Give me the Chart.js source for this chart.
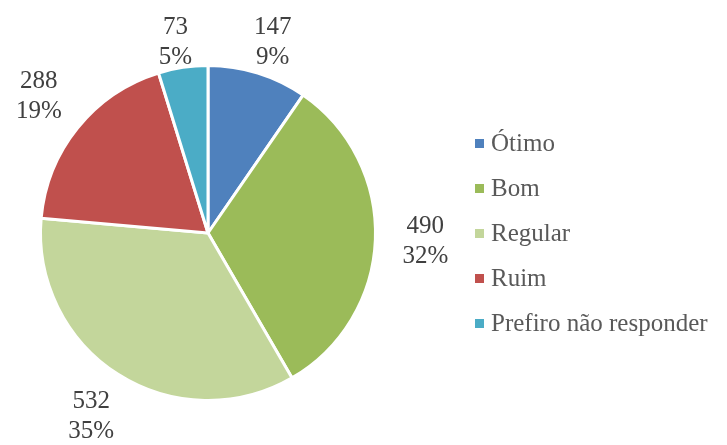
<!DOCTYPE html>
<html>
<head>
<meta charset="utf-8">
<script src="https://cdn.jsdelivr.net/npm/chart.js@4/dist/chart.umd.min.js"></script>
<style>
html,body{margin:0;padding:0;background:#fff;}
#wrap{width:727px;height:445px;position:relative;overflow:hidden;}
#c{position:absolute;left:0;top:0;}
</style>
</head>
<body>
<div id="wrap"><canvas id="c" width="727" height="445"></canvas></div>
<script>
const categories = ["Ótimo", "Bom", "Regular", "Ruim", "Prefiro não responder"];
const values = [147, 490, 532, 288, 73];
const percentLabels = ["9%", "32%", "35%", "19%", "5%"];
const colors = ["#4F81BD", "#9BBB59", "#C3D69B", "#C0504D", "#4BACC6"];

const LABEL_FONT = "25px Times New Roman";
const LEGEND_FONT = "25px serif";

const labelPlugin = {
  id: 'outLabels',
  afterDatasetsDraw(chart) {
    const ctx = chart.ctx;
    const meta = chart.getDatasetMeta(0);
    ctx.save();
    ctx.font = LABEL_FONT;
    ctx.fillStyle = "#404040";
    ctx.textAlign = "center";
    ctx.textBaseline = "middle";
    const lh = 30;
    meta.data.forEach((arc, i) => {
      const p = arc.getProps(['x','y','startAngle','endAngle','outerRadius'], true);
      const mid = (p.startAngle + p.endAngle) / 2;
      const d = p.outerRadius + 50;
      let cx = p.x + Math.cos(mid) * d;
      let cy = p.y + Math.sin(mid) * d;
      cy = Math.max(cy, 42);
      ctx.fillText(String(chart.data.datasets[0].data[i]), cx, cy - lh/2);
      ctx.fillText(percentLabels[i], cx, cy + lh/2);
    });
    ctx.restore();
  }
};

const legendPlugin = {
  id: 'sideLegend',
  afterDraw(chart) {
    const ctx = chart.ctx;
    const ds = chart.data.datasets[0];
    ctx.save();
    ctx.font = LEGEND_FONT;
    ctx.textAlign = "left";
    ctx.textBaseline = "middle";
    chart.data.labels.forEach((lab, i) => {
      const y = 143 + i * 45;
      ctx.fillStyle = ds.backgroundColor[i];
      ctx.fillRect(475, y - 4, 9, 9);
      ctx.fillStyle = "#595959";
      ctx.fillText(lab, 491, y + 1);
    });
    ctx.restore();
  }
};

new Chart(document.getElementById('c'), {
  type: 'pie',
  data: {
    labels: categories,
    datasets: [{
      data: values,
      backgroundColor: colors,
      borderColor: '#ffffff',
      borderWidth: 3
    }]
  },
  options: {
    responsive: false,
    animation: false,
    layout: { padding: { top: 63, bottom: 42, left: 39, right: 350 } },
    plugins: {
      legend: { display: false },
      tooltip: { enabled: false }
    }
  },
  plugins: [labelPlugin, legendPlugin]
});
</script>
</body>
</html>
